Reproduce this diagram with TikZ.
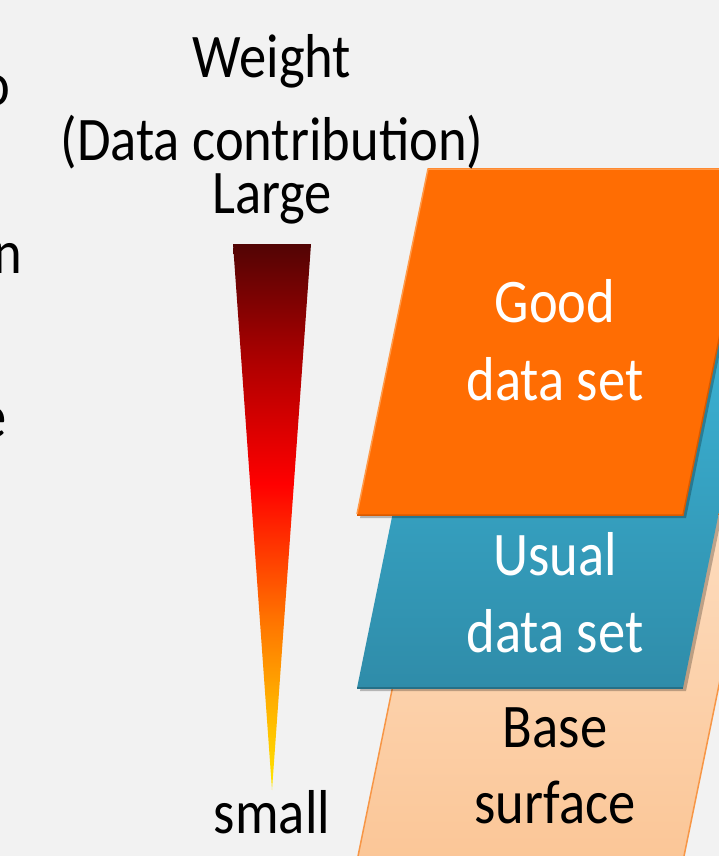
\documentclass[tikz,border=0pt]{standalone}
\usepackage{fontspec}
\setmainfont{Carlito}
\usepackage{tikz}
\usetikzlibrary{backgrounds,shadows,positioning}
\pgfdeclarelayer{paperlayer}
\pgfdeclarelayer{slablayer}
\pgfdeclarelayer{textlayer}
\pgfsetlayers{paperlayer,slablayer,main,textlayer}

\definecolor{slidegray}{HTML}{F2F2F2}
\definecolor{goodfill}{HTML}{FF6D03}
\definecolor{goodlight}{HTML}{FF9A4A}
\definecolor{gooddark}{HTML}{D85A00}
\definecolor{usualtop}{HTML}{3BB1D3}
\definecolor{usualbot}{HTML}{2F8CA9}
\definecolor{basetop}{HTML}{FDDCBE}
\definecolor{basebot}{HTML}{FBC697}
\definecolor{baseedge}{HTML}{F79646}
\definecolor{tipyellow}{HTML}{FFE800}
\definecolor{tipgold}{HTML}{FFB000}
\definecolor{tiporange}{HTML}{FF7000}
\definecolor{midred}{HTML}{FF0000}
\definecolor{upperred}{HTML}{B00000}
\definecolor{topmaroon}{HTML}{520404}

\pgfdeclareverticalshading{weightshade}{100bp}{%
  color(0bp)=(tipyellow); color(25bp)=(tipyellow); color(33bp)=(tipgold);
  color(41bp)=(tiporange); color(53bp)=(midred); color(64bp)=(upperred);
  color(75bp)=(topmaroon); color(100bp)=(topmaroon)}

\newcommand{\slidefont}{\fontsize{62}{76}\selectfont}
% one slab: bottom y, style
\newcommand{\dataslab}[2]{%
  \path[#2] (357,#1) -- (683,#1) -- (754,#1-347) -- (428,#1-347) -- cycle;}

\begin{document}
\begin{tikzpicture}[x=1pt, y=-1pt, every node/.style={inner sep=0pt, font=\slidefont, xscale=0.88, transform shape}]
	\begin{pgfonlayer}{paperlayer}
		\fill [slidegray] (0,0) rectangle (719,856);
	\end{pgfonlayer}
	\useasboundingbox (0,0) rectangle (719,856);
	\begin{pgfonlayer}{slablayer}
		% base surface
		\dataslab{861}{top color=basetop, bottom color=basebot, draw=baseedge, line width=1.5pt}
		% usual data set
		\dataslab{691}{fill=black, opacity=0.25, shift={(3,0)}}
		\dataslab{688}{top color=usualtop, bottom color=usualbot}
		\draw [usualbot!80!black, line width=1.5pt] (357,688) to (683,688);
		% good data set
		\dataslab{518}{fill=black, opacity=0.25, shift={(3,0)}}
		\dataslab{515}{fill=goodfill}
		\draw [goodlight, line width=1.5pt] (357,514) to (428,169) to (754,169);
		\draw [gooddark, line width=1.5pt] (357,515) to (683,515) to (754,168);
		% weight wedge
		\shade [shading=weightshade] (233,244) to (311,244) to (272,790) to cycle;
	\end{pgfonlayer}
	\begin{pgfonlayer}{textlayer}
		\node [anchor=base east] (cuto) at (10,106) {o};
		\node [anchor=base east] (cutn) at (22,273) {n};
		\node [anchor=base east] (cute) at (7,437) {e};
		\node [anchor=base] (weight) at (272,78) {Weight};
		\node [anchor=base] (contrib) at (272,160) {(Data contribution)};
		\node [anchor=base] (large) at (272,213) {Large};
		\node [anchor=base] (small) at (272,833) {small};
		\node [anchor=base, white] (good1) at (555,322) {Good};
		\node [anchor=base, white] (good2) at (555,400) {data set};
		\node [anchor=base, white] (usual1) at (555,575) {Usual};
		\node [anchor=base, white] (usual2) at (555,652) {data set};
		\node [anchor=base] (base1) at (555,747) {Base};
		\node [anchor=base] (base2) at (555,823) {surface};
	\end{pgfonlayer}
\end{tikzpicture}
\end{document}
